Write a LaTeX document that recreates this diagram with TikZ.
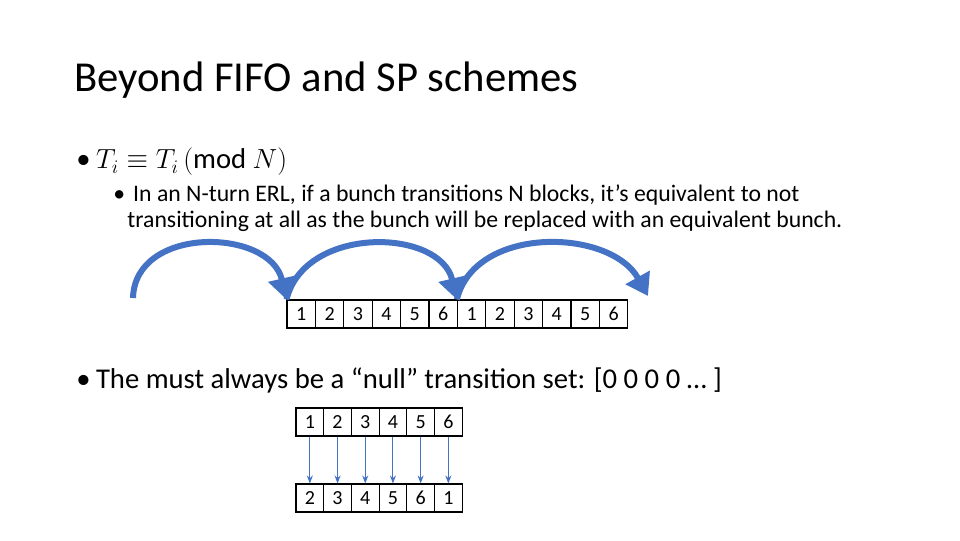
\documentclass[tikz,border=0pt]{standalone}
\usepackage{fontspec}
\setmainfont{Carlito}
\usepackage{amsmath}
\usetikzlibrary{arrows.meta, positioning}
\definecolor{arcblue}{RGB}{68,114,196}
\begin{document}
\begin{tikzpicture}[x=0.75pt, y=-0.75pt, >=stealth, semithick]
  \tikzset{
    cell/.style={draw, thick, minimum width=28.4*0.75pt, minimum height=28*0.75pt, inner sep=0pt, font=\fontsize{15}{16}\selectfont},
    lowcell/.style={cell, minimum width=27.7*0.75pt},
    hop/.style={arcblue, line width=4.5pt, -{Triangle[length=16pt, width=20pt]}},
    drop/.style={arcblue, thick, -{Stealth[length=6pt]}},
    body/.style={anchor=west, inner sep=0pt, align=left}
  }
  \useasboundingbox (0,0) rectangle (960,540);
  \node[anchor=west, inner sep=0pt, font=\fontsize{32}{36}\selectfont] (title) at (74,80) {Beyond FIFO and SP schemes};
  \node[body, font=\fontsize{21.5}{26}\selectfont] (b1) at (76,162) {•\hspace{4pt}$T_i \equiv T_i\,(\mathrm{mod}\ N)$};
  \node[body, font=\fontsize{17.8}{19.5}\selectfont] (b2) at (113,208) {•\hspace{6pt}In an N-turn ERL, if a bunch transitions N blocks, it’s equivalent to not\\\hspace{10.5pt}transitioning at all as the bunch will be replaced with an equivalent bunch.};
  \node[body, font=\fontsize{21.5}{26}\selectfont] (b3) at (76,380) {•\hspace{4pt}The must always be a “null” transition set: [0 0 0 0 … ]};
  % long row of cells
  \foreach \k/\lab in {1/1,2/2,3/3,4/4,5/5,6/6,7/1,8/2,9/3,10/4,11/5,12/6}
    \node[cell] (r\k) at ({287+28.4*(\k-0.5)},314) {\lab};
  % hops
  \coordinate (start) at (133,298);
  \coordinate (out) at (648,296);
  \draw[hop] (start) .. controls (135,225) and (270,228) .. (r1.north west);
  \draw[hop] (r1.north west) .. controls (305,225) and (440,228) .. (r7.north west);
  \draw[hop] (r7.north west) .. controls (475,225) and (610,228) .. (out);
  % null transition
  \foreach \k/\a/\b in {1/1/2,2/2/3,3/3/4,4/4/5,5/5/6,6/6/1} {
    \node[lowcell] (u\k) at ({296+27.7*(\k-0.5)},422) {\a};
    \node[lowcell] (d\k) at ({296+27.7*(\k-0.5)},498) {\b};
    \draw[drop] (u\k) -- (d\k);
  }
\end{tikzpicture}
\end{document}
